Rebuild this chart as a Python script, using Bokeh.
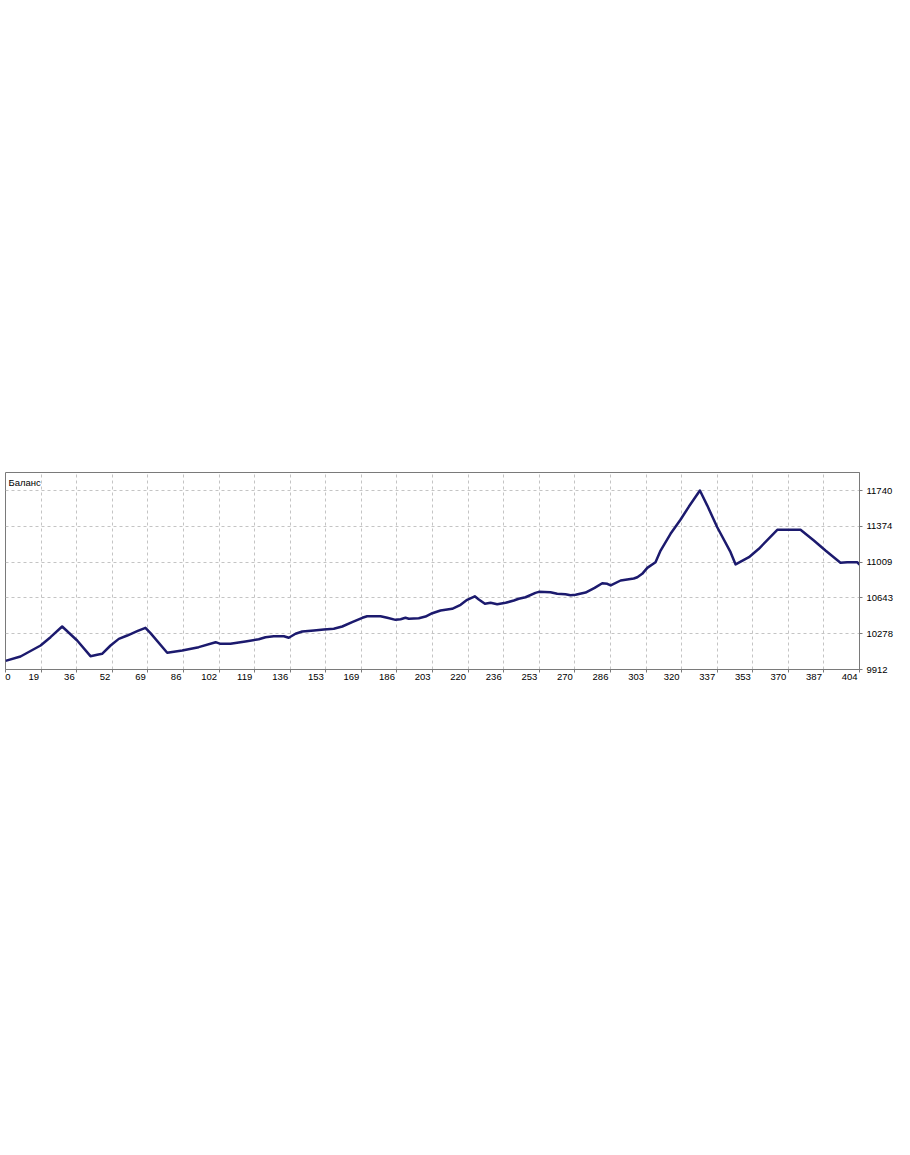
from bokeh.plotting import figure
from bokeh.models import Range1d, FixedTicker, Label, CustomJSTickFormatter, LinearAxis
from bokeh.embed import file_html
from bokeh.resources import INLINE

# Balance curve (trade number, balance)
trade = [0, 7.1, 16.6, 21.3, 26.8, 33.9, 40.2, 43.4, 45.7, 49.7, 53.6, 57.6, 62.3, 66.2, 68.6,
         76.5, 83.6, 91.4, 99.4, 101.7, 106.4, 113.5, 119.8, 123.0, 126.9, 131.7, 134.0, 137.2,
         140.4, 145.9, 150.6, 155.3, 159.3, 164.0, 168.8, 171.1, 177.4, 180.6, 184.5, 186.9,
         189.2, 190.8, 195.5, 198.7, 201.9, 205.8, 211.3, 215.3, 218.4, 222.0, 223.9, 226.8,
         229.5, 232.6, 236.6, 240.5, 242.8, 246.0, 250.7, 252.3, 257.8, 261.0, 264.9, 267.3,
         269.7, 274.4, 278.7, 282.3, 284.7, 286.3, 291.0, 297.2, 298.9, 301.2, 303.6, 307.5,
         309.9, 314.6, 319.3, 323.3, 328.5, 332.0, 336.7, 343.0, 345.4, 351.7, 356.4, 365.1,
         376.1, 382.4, 387.9, 395.0, 398.2, 402.9, 404]
balance = [10000, 10045, 10157, 10242, 10351, 10208, 10048, 10062, 10072, 10157, 10225, 10259,
           10303, 10338, 10283, 10083, 10106, 10140, 10191, 10174, 10174, 10198, 10221, 10242,
           10252, 10252, 10236, 10277, 10300, 10310, 10320, 10328, 10351, 10395, 10440, 10456,
           10456, 10440, 10419, 10426, 10440, 10430, 10436, 10453, 10487, 10515, 10532, 10573,
           10624, 10660, 10627, 10583, 10593, 10579, 10593, 10617, 10634, 10650, 10695, 10705,
           10701, 10685, 10681, 10671, 10675, 10698, 10746, 10793, 10787, 10770, 10821, 10841,
           10854, 10889, 10950, 11008, 11127, 11298, 11441, 11576, 11740, 11586, 11365, 11110,
           10985, 11059, 11145, 11339, 11339, 11229, 11127, 11002, 11008, 11008, 10984]

x_tick_labels = ["0", "19", "36", "52", "69", "86", "102", "119", "136", "153", "169", "186",
                 "203", "220", "236", "253", "270", "286", "303", "320", "337", "353", "370",
                 "387", "404"]
y_ticks = [9912, 10277.6, 10643.2, 11008.8, 11374.4, 11740]
series_name = "Баланс"

X_MAX = 404
Y_MIN, Y_MAX = 9912, 11924
FONT = "Liberation Sans"
FS = "9.5px"
FRAME_W, FRAME_H = 854, 197
PX = X_MAX / FRAME_W          # data units per pixel
DIGIT_W = 5.28                # approx. digit width at 9.5px
AX_COLOR = "#7a7a7a"

p = figure(frame_width=FRAME_W, frame_height=FRAME_H, output_backend="svg", toolbar_location=None,
           x_range=Range1d(0, X_MAX), y_range=Range1d(Y_MIN, Y_MAX),
           x_axis_location="below", y_axis_location="right",
           min_border_left=5, min_border_top=472, min_border_bottom=10, min_border_right=40,
           background_fill_color="white", border_fill_color="white")

p.outline_line_color = AX_COLOR
p.outline_line_width = 1

n = len(x_tick_labels) - 1
grid_pos = [k * X_MAX / n for k in range(n + 1)]

# axis next to the frame: only short tick marks at the grid lines (minor ticks carry no labels)
xa = p.xaxis[0]
xa.ticker = FixedTicker(ticks=[], minor_ticks=grid_pos)
xa.major_tick_out = 0
xa.major_tick_in = 0
xa.minor_tick_out = 3
xa.minor_tick_in = 0
xa.major_label_standoff = 0
xa.axis_line_color = AX_COLOR
xa.minor_tick_line_color = AX_COLOR

# labels: each ends just left of its grid line, the first one sits inside the left edge
label_pos = [(2.5 * PX)] + [grid_pos[k] - (len(x_tick_labels[k]) * DIGIT_W / 2 + 2) * PX
                            for k in range(1, n + 1)]
xl = LinearAxis(ticker=FixedTicker(ticks=label_pos),
                major_label_overrides={label_pos[k]: x_tick_labels[k] for k in range(n + 1)},
                major_label_text_font=FONT, major_label_text_font_size=FS,
                major_label_text_color="black", major_label_standoff=1,
                major_tick_out=0, major_tick_in=0, minor_tick_out=0, minor_tick_in=0,
                axis_line_color=None, major_tick_line_color=None, minor_tick_line_color=None)
p.add_layout(xl, "below")

ya = p.yaxis[0]
ya.ticker = FixedTicker(ticks=y_ticks)
ya.formatter = CustomJSTickFormatter(code="return Math.round(tick).toString();")
ya.major_label_text_align = "left"
ya.major_label_text_font = FONT
ya.major_label_text_font_size = FS
ya.major_label_text_color = "black"
ya.major_tick_out = 3
ya.major_tick_in = 0
ya.minor_tick_out = 0
ya.minor_tick_in = 0
ya.major_label_standoff = 4
ya.major_label_orientation = "horizontal"
ya.axis_line_color = AX_COLOR
ya.major_tick_line_color = AX_COLOR

p.xgrid.ticker = FixedTicker(ticks=grid_pos)
p.ygrid.ticker = FixedTicker(ticks=y_ticks)
for g in (p.xgrid[0], p.ygrid[0]):
    g.grid_line_color = "#c4c4c4"
    g.grid_line_dash = "3 3"
    g.grid_line_width = 1

p.line(trade, balance, line_color="#1c1a6e", line_width=2.5, line_join="round")

p.add_layout(Label(x=1.4, y=Y_MAX - 4 * (Y_MAX - Y_MIN) / FRAME_H, text=series_name,
                   text_font=FONT, text_font_size=FS, text_color="black",
                   text_baseline="top", text_align="left"))

open("out.html", "w").write(file_html(p, INLINE))
